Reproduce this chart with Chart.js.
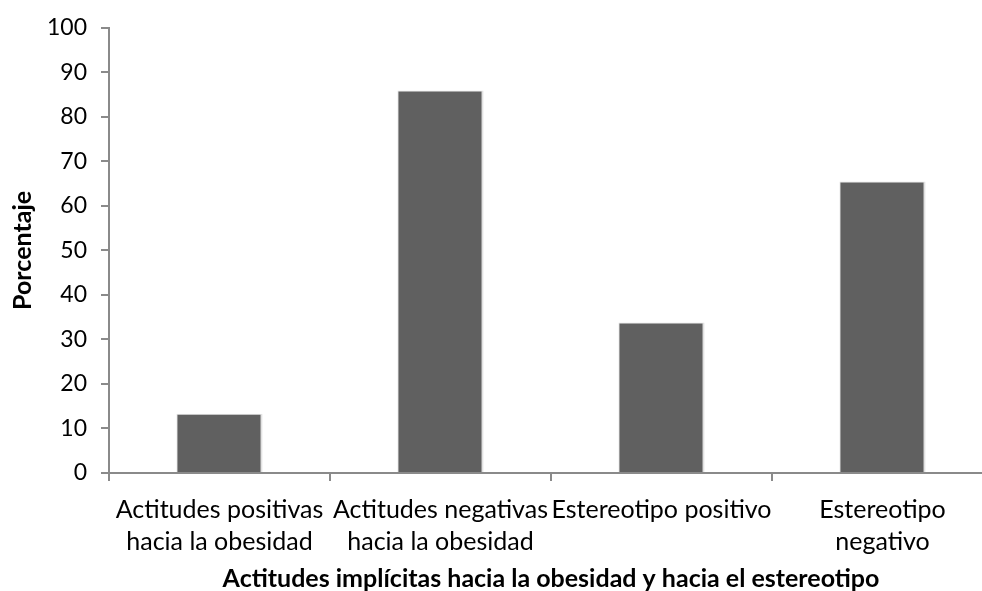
<!DOCTYPE html>
<html>
<head>
<meta charset="utf-8">
<script src="https://cdn.jsdelivr.net/npm/chart.js@4"></script>
<style>
  html, body { margin: 0; padding: 0; background: #fff; overflow: hidden; }
  #wrap { width: 993px; height: 591px; }
</style>
</head>
<body>
<div id="wrap"><canvas id="chart" width="993" height="591"></canvas></div>
<script>
// Categorías del eje X (etiquetas en varias líneas)
const categorias = [
    ['Actitudes positivas', 'hacia la obesidad'],
    ['Actitudes negativas', 'hacia la obesidad'],
    'Estereotipo positivo',
    ['Estereotipo', 'negativo']
];

// Porcentajes
const porcentajes = [13.3, 85.9, 33.8, 65.5];

const tituloX = 'Actitudes implícitas hacia la obesidad y hacia el estereotipo';
const tituloY = 'Porcentaje';

const fuente = 'Lato, "Open Sans", sans-serif';
const gris = '#8a8a8a';

const ctx = document.getElementById('chart').getContext('2d');
new Chart(ctx, {
    type: 'bar',
    data: {
        labels: categorias,
        datasets: [{
            data: porcentajes,
            backgroundColor: '#606060',
            borderColor: '#e2e2e2',
            borderWidth: { top: 1, left: 1, right: 2, bottom: 0 },
            borderSkipped: 'bottom',
            categoryPercentage: 0.39,
            barPercentage: 1
        }]
    },
    options: {
        responsive: false,
        animation: false,
        devicePixelRatio: 1,
        layout: { padding: { top: 25, right: 0, bottom: 0, left: 8 } },
        plugins: {
            legend: { display: false },
            tooltip: { enabled: false }
        },
        scales: {
            x: {
                afterFit: (scale) => { scale.height = 591 - 473; },
                grid: {
                    drawOnChartArea: false,
                    drawTicks: true,
                    tickLength: 8,
                    color: gris,
                    lineWidth: 2
                },
                border: { color: gris, width: 2 },
                ticks: {
                    color: '#000',
                    font: { family: fuente, size: 25, lineHeight: 1.28 },
                    padding: 13,
                    maxRotation: 0,
                    autoSkip: false
                },
                title: {
                    display: true,
                    text: tituloX,
                    color: '#000',
                    font: { family: fuente, size: 25, weight: 'bold', lineHeight: 1 },
                    padding: { top: 10, bottom: 0 }
                }
            },
            y: {
                min: 0,
                max: 100,
                afterFit: (scale) => { scale.width = 109 - 8; },
                ticks: {
                    stepSize: 10,
                    color: '#000',
                    font: { family: fuente, size: 23 },
                    padding: 14
                },
                grid: {
                    drawOnChartArea: false,
                    drawTicks: true,
                    tickLength: 8,
                    color: gris,
                    lineWidth: 2
                },
                border: { color: gris, width: 2 },
                title: {
                    display: true,
                    text: tituloY,
                    color: '#000',
                    font: { family: fuente, size: 25, weight: 'bold' },
                    padding: { top: 0, bottom: 0 }
                }
            }
        }
    }
});
</script>
</body>
</html>
